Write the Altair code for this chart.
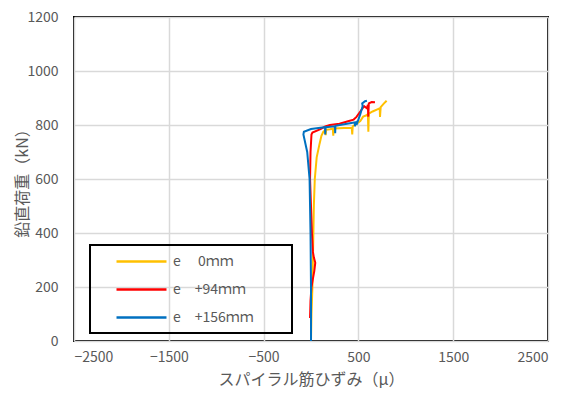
import altair as alt
import pandas as pd

series_names = ["e\u3000 0ｍｍ", "e\u3000+94ｍｍ", "e\u3000+156ｍｍ"]
colors = ["#FFC000", "#FF0000", "#0070C0"]

# e 0mm (yellow)
y_strain = [0, 5, 15, 20, 25, 30, 40, 60, 90, 110, 130, 150, 155, 160, 200, 230, 235, 240, 350, 430, 435, 440,
            520, 550, 580, 600, 605, 610, 650, 700, 725, 728, 735, 770, 798]
y_load = [0, 100, 200, 300, 400, 500, 600, 680, 730, 760, 775, 780, 762, 782, 784, 786, 760, 787, 789, 790, 765, 795,
          815, 831, 835, 840, 775, 842, 850, 858, 862, 830, 866, 880, 890]

# e +94mm (red)
r_strain = [-10, -5, 5, 20, 35, 45, 30, 20, 10, 0, -10, -5, 5, 15, 100, 150, 200, 300, 400, 450, 480, 520,
            560, 590, 600, 604, 610, 640, 675]
r_load = [85, 150, 200, 230, 260, 290, 310, 330, 400, 500, 600, 700, 765, 772, 785, 795, 800, 805, 815, 820, 830, 850,
          870, 862, 875, 831, 880, 885, 884]

# e +156mm (blue)
b_strain = [0, 0, -5, -15, -40, -80, -75, 0, 100, 148, 150, 155, 253, 255, 258, 380, 470, 460, 490, 480, 520, 545,
            540, 570, 590]
b_load = [0, 200, 400, 600, 700, 765, 775, 785, 790, 792, 765, 792, 795, 770, 797, 805, 810, 795, 815, 800, 840, 870,
          880, 888, 890]

x_ticks = [-2500, -1500, -500, 500, 1500, 2500]
y_ticks = [0, 200, 400, 600, 800, 1000, 1200]

rows = []
for name, xs, ys in [(series_names[0], y_strain, y_load), (series_names[1], r_strain, r_load),
                     (series_names[2], b_strain, b_load)]:
    for i, (sx, sy) in enumerate(zip(xs, ys)):
        rows.append({"series": name, "strain": sx, "load": sy, "idx": i})
df = pd.DataFrame(rows)

font = "Noto Sans CJK JP"
gray = "#595959"

chart = alt.Chart(df).mark_line(strokeWidth=2).encode(
    x=alt.X("strain:Q", scale=alt.Scale(domain=[-2500, 2500], nice=False),
            axis=alt.Axis(values=x_ticks, format="d", title="スパイラル筋ひずみ（μ）", labelPadding=9,
                          titlePadding=7)),
    y=alt.Y("load:Q", scale=alt.Scale(domain=[0, 1200], nice=False),
            axis=alt.Axis(values=y_ticks, format="d", title="鉛直荷重（kN）", labelPadding=16,
                          titleX=-52, titleY=162, titleAlign="center", titleBaseline="middle",
                          titleAngle=270)),
    color=alt.Color("series:N", scale=alt.Scale(domain=series_names, range=colors),
                    legend=alt.Legend(title=None, orient="none", legendX=16, legendY=228,
                                      symbolType="M1.43,0H8.57", symbolSize=196, symbolStrokeWidth=2.5,
                                      labelOffset=58, rowPadding=12, padding=8,
                                      labelExpr="datum.label + '\u2800\u2800\u2800'",
                                      strokeColor="black", labelFontSize=14, labelColor=gray,
                                      labelFont=font)),
    order="idx:Q",
    detail="series:N",
).properties(
    width=474, height=324,
    autosize=alt.AutoSizeParams(type="none"),
    padding={"left": 74, "top": 17, "right": 18, "bottom": 53},
).configure_view(
    stroke="black", strokeWidth=2
).configure_axis(
    grid=True, gridColor="#d9d9d9", gridWidth=1.5, domain=False, ticks=False,
    labelFont=font, labelFontSize=14, labelColor=gray,
    titleFont=font, titleFontSize=16, titleColor=gray, titleFontWeight="normal",
).configure_legend(
    strokeWidth=2
)

chart.save("out.html", embed_options={"renderer": "svg", "actions": False})
